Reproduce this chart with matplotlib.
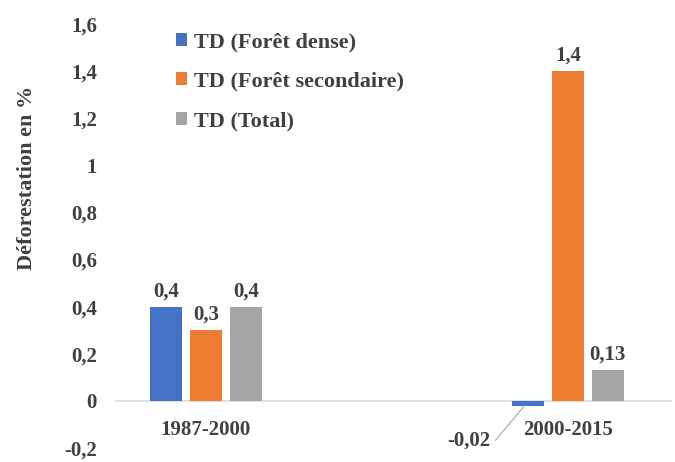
import matplotlib.pyplot as plt
from matplotlib.patches import Patch

# Data
periods = ["1987-2000", "2000-2015"]
series_names = ["TD (Forêt dense)", "TD (Forêt secondaire)", "TD (Total)"]
foret_dense = [0.4, -0.02]
foret_secondaire = [0.3, 1.4]
total = [0.4, 0.13]
yticks = [-0.2, 0, 0.2, 0.4, 0.6, 0.8, 1, 1.2, 1.4, 1.6]

colors = ["#4472C4", "#ED7D31", "#A5A5A5"]
text_color = "#404040"
plt.rcParams["font.family"] = ["Liberation Serif", "DejaVu Serif"]
plt.rcParams["font.weight"] = "bold"


def fr(v):
    return f"{v:g}".replace(".", ",")


fig = plt.figure(figsize=(6.75, 4.62), dpi=100)
ax = fig.add_axes([115 / 675, 14 / 462, 557 / 675, 424 / 462])

x = list(range(len(periods)))
width = 0.088
step = 0.110
all_series = [foret_dense, foret_secondaire, total]
for i, (vals, col) in enumerate(zip(all_series, colors)):
    pos = [xi + (i - 1) * step for xi in x]
    ax.bar(pos, vals, width=width, color=col, zorder=3)
    for p, v in zip(pos, vals):
        if v >= 0:
            ax.annotate(fr(v), (p, v), xytext=(0, 4), textcoords="offset points",
                        ha="center", va="bottom", fontsize=15,
                        fontweight="bold", color=text_color)
        else:
            # negative value: label placed below with a leader line
            ax.annotate(fr(v), xy=(p - 0.01, v), xytext=(p - 0.165, -0.17),
                        textcoords="data", ha="center", va="center",
                        fontsize=15, fontweight="bold", color=text_color,
                        arrowprops=dict(arrowstyle="-", color="#A6A6A6", lw=0.8,
                                        connectionstyle="angle,angleA=0,angleB=50,rad=0",
                                        shrinkA=2, shrinkB=0))

# category labels under the zero line
for xi, lab in zip(x, periods):
    ax.text(xi, -0.125, lab, ha="center", va="center", fontsize=15,
            fontweight="bold", color=text_color)

ax.axhline(0, color="#D9D9D9", lw=1.2, zorder=2)
ax.set_xlim(-0.251, 1.287)
ax.set_ylim(-0.2, 1.6)
ax.set_yticks(yticks)
ax.set_yticklabels([fr(t) for t in yticks])
ax.set_xticks([])
ax.tick_params(axis="y", length=0, pad=13, labelsize=15, labelcolor=text_color)
for s in ax.spines.values():
    s.set_visible(False)

fig.text(27 / 675, 1 - 178 / 462, "Déforestation en %", rotation=90,
         ha="center", va="center", fontsize=16, fontweight="bold", color=text_color)

handles = [Patch(facecolor=c, edgecolor="none") for c in colors]
leg = ax.legend(handles, series_names, loc="upper left",
                bbox_to_anchor=(165 / 675, 1 - 21 / 462), bbox_transform=fig.transFigure,
                frameon=False, fontsize=16, handlelength=0.5, handleheight=0.5,
                handletextpad=0.3, labelspacing=0.88, borderpad=0)
for t in leg.get_texts():
    t.set_color(text_color)

fig.savefig("out.png", dpi=100)
